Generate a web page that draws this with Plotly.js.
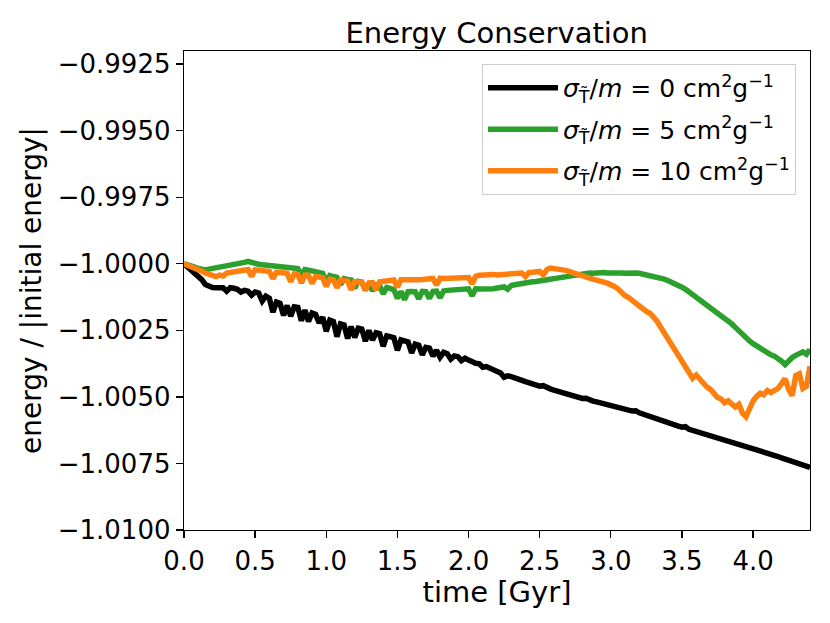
<!DOCTYPE html>
<html>
<head>
<meta charset="utf-8">
<script src="https://cdn.plot.ly/plotly-3.0.1.min.js"></script>
<style>html,body{margin:0;padding:0;background:#fff;}#chart{width:830px;height:623px;}</style>
</head>
<body>
<div id="chart"></div>
<script>
// time [Gyr]
const time = [
0,0.025,0.05,0.075,0.1,0.125,0.15,0.175,
0.2,0.225,0.25,0.275,0.3,0.325,0.35,0.375,
0.4,0.425,0.45,0.475,0.5,0.525,0.55,0.575,
0.6,0.625,0.65,0.675,0.7,0.725,0.75,0.775,
0.8,0.825,0.85,0.875,0.9,0.925,0.95,0.975,
1.0,1.025,1.05,1.075,1.1,1.125,1.15,1.175,
1.2,1.225,1.25,1.275,1.3,1.325,1.35,1.375,
1.4,1.425,1.45,1.475,1.5,1.525,1.55,1.575,
1.6,1.625,1.65,1.675,1.7,1.725,1.75,1.775,
1.8,1.825,1.85,1.875,1.9,1.925,1.95,1.975,
2.0,2.025,2.05,2.075,2.1,2.125,2.15,2.175,
2.2,2.225,2.25,2.275,2.3,2.325,2.35,2.375,
2.4,2.425,2.45,2.475,2.5,2.525,2.55,2.575,
2.6,2.625,2.65,2.675,2.7,2.725,2.75,2.775,
2.8,2.825,2.85,2.875,2.9,2.925,2.95,2.975,
3.0,3.025,3.05,3.075,3.1,3.125,3.15,3.175,
3.2,3.225,3.25,3.275,3.3,3.325,3.35,3.375,
3.4,3.425,3.45,3.475,3.5,3.525,3.55,3.575,
3.6,3.625,3.65,3.675,3.7,3.725,3.75,3.775,
3.8,3.825,3.85,3.875,3.9,3.925,3.95,3.975,
4.0,4.025,4.05,4.075,4.1,4.125,4.15,4.175,
4.2,4.225,4.25,4.275,4.3,4.325,4.35,4.375,
4.4];

// energy / |initial energy|, sigma/m = 0
const energy0 = [
-1.00000,-1.00012,-1.00023,-1.00035,-1.00046,-1.00060,-1.00078,-1.00086,
-1.00089,-1.00090,-1.00092,-1.00090,-1.00103,-1.00090,-1.00092,-1.00096,
-1.00106,-1.00100,-1.00103,-1.00118,-1.00106,-1.00110,-1.00140,-1.00122,
-1.00130,-1.00182,-1.00144,-1.00149,-1.00194,-1.00157,-1.00197,-1.00162,
-1.00164,-1.00214,-1.00174,-1.00217,-1.00185,-1.00190,-1.00222,-1.00201,
-1.00254,-1.00212,-1.00217,-1.00274,-1.00226,-1.00230,-1.00281,-1.00236,
-1.00277,-1.00242,-1.00245,-1.00291,-1.00250,-1.00287,-1.00259,-1.00263,
-1.00310,-1.00271,-1.00274,-1.00278,-1.00325,-1.00286,-1.00290,-1.00294,
-1.00335,-1.00302,-1.00306,-1.00342,-1.00314,-1.00317,-1.00347,-1.00325,
-1.00351,-1.00333,-1.00338,-1.00358,-1.00346,-1.00349,-1.00364,-1.00355,
-1.00362,-1.00370,-1.00374,-1.00376,-1.00389,-1.00386,-1.00393,-1.00399,
-1.00405,-1.00410,-1.00426,-1.00421,-1.00424,-1.00427,-1.00432,-1.00438,
-1.00443,-1.00447,-1.00451,-1.00456,-1.00460,-1.00458,-1.00467,-1.00470,
-1.00475,-1.00479,-1.00483,-1.00487,-1.00492,-1.00496,-1.00500,-1.00502,
-1.00506,-1.00505,-1.00512,-1.00516,-1.00519,-1.00523,-1.00526,-1.00530,
-1.00533,-1.00536,-1.00540,-1.00543,-1.00546,-1.00550,-1.00553,-1.00552,
-1.00560,-1.00565,-1.00569,-1.00574,-1.00578,-1.00583,-1.00587,-1.00594,
-1.00597,-1.00601,-1.00606,-1.00610,-1.00614,-1.00612,-1.00622,-1.00626,
-1.00630,-1.00634,-1.00638,-1.00643,-1.00647,-1.00651,-1.00652,-1.00659,
-1.00663,-1.00666,-1.00670,-1.00674,-1.00678,-1.00682,-1.00683,-1.00690,
-1.00694,-1.00698,-1.00702,-1.00706,-1.00710,-1.00716,-1.00719,-1.00724,
-1.00729,-1.00734,-1.00738,-1.00743,-1.00748,-1.00752,-1.00757,-1.00761,
-1.00765];

// sigma/m = 5
const energy5 = [
-1.00000,-1.00003,-1.00008,-1.00013,-1.00018,-1.00022,-1.00023,-1.00020,
-1.00018,-1.00015,-1.00012,-1.00010,-1.00008,-1.00006,-1.00003,-1.00001,
-0.99998,-0.99995,-0.99991,-0.99996,-1.00000,-1.00002,-1.00004,-1.00005,
-1.00006,-1.00007,-1.00008,-1.00009,-1.00010,-1.00012,-1.00014,-1.00016,
-1.00018,-1.00045,-1.00022,-1.00024,-1.00026,-1.00029,-1.00032,-1.00036,
-1.00068,-1.00044,-1.00048,-1.00051,-1.00078,-1.00056,-1.00059,-1.00061,
-1.00092,-1.00066,-1.00069,-1.00099,-1.00073,-1.00102,-1.00079,-1.00082,
-1.00113,-1.00089,-1.00093,-1.00097,-1.00130,-1.00104,-1.00135,-1.00105,
-1.00104,-1.00105,-1.00132,-1.00104,-1.00105,-1.00130,-1.00104,-1.00103,
-1.00128,-1.00102,-1.00100,-1.00099,-1.00098,-1.00097,-1.00096,-1.00095,
-1.00094,-1.00120,-1.00094,-1.00095,-1.00096,-1.00097,-1.00096,-1.00094,
-1.00091,-1.00089,-1.00087,-1.00096,-1.00082,-1.00079,-1.00076,-1.00073,
-1.00071,-1.00069,-1.00068,-1.00067,-1.00066,-1.00063,-1.00060,-1.00058,
-1.00056,-1.00054,-1.00051,-1.00048,-1.00045,-1.00042,-1.00040,-1.00038,
-1.00037,-1.00036,-1.00035,-1.00036,-1.00034,-1.00035,-1.00033,-1.00035,
-1.00034,-1.00036,-1.00034,-1.00035,-1.00036,-1.00034,-1.00033,-1.00035,
-1.00036,-1.00039,-1.00041,-1.00042,-1.00045,-1.00049,-1.00053,-1.00058,
-1.00063,-1.00068,-1.00074,-1.00081,-1.00088,-1.00096,-1.00106,-1.00116,
-1.00125,-1.00135,-1.00145,-1.00156,-1.00165,-1.00174,-1.00183,-1.00192,
-1.00202,-1.00214,-1.00226,-1.00239,-1.00253,-1.00266,-1.00278,-1.00290,
-1.00300,-1.00309,-1.00317,-1.00324,-1.00334,-1.00342,-1.00347,-1.00354,
-1.00366,-1.00379,-1.00363,-1.00352,-1.00344,-1.00340,-1.00331,-1.00340,
-1.00322];

// sigma/m = 10
const energy10 = [
-1.00000,-1.00005,-1.00009,-1.00014,-1.00020,-1.00028,-1.00035,-1.00040,
-1.00044,-1.00048,-1.00043,-1.00046,-1.00035,-1.00032,-1.00029,-1.00027,
-1.00025,-1.00023,-1.00022,-1.00048,-1.00023,-1.00024,-1.00026,-1.00028,
-1.00029,-1.00056,-1.00032,-1.00033,-1.00035,-1.00036,-1.00067,-1.00038,
-1.00040,-1.00072,-1.00043,-1.00044,-1.00074,-1.00048,-1.00050,-1.00053,
-1.00085,-1.00058,-1.00060,-1.00090,-1.00062,-1.00064,-1.00065,-1.00098,
-1.00067,-1.00069,-1.00070,-1.00100,-1.00072,-1.00071,-1.00098,-1.00068,
-1.00066,-1.00064,-1.00063,-1.00061,-1.00088,-1.00060,-1.00060,-1.00061,
-1.00060,-1.00059,-1.00060,-1.00059,-1.00058,-1.00057,-1.00055,-1.00080,
-1.00054,-1.00055,-1.00054,-1.00054,-1.00053,-1.00054,-1.00053,-1.00052,
-1.00052,-1.00075,-1.00047,-1.00043,-1.00041,-1.00042,-1.00041,-1.00040,
-1.00042,-1.00041,-1.00040,-1.00041,-1.00039,-1.00038,-1.00036,-1.00035,
-1.00048,-1.00033,-1.00032,-1.00030,-1.00029,-1.00042,-1.00022,-1.00016,
-1.00018,-1.00016,-1.00021,-1.00024,-1.00028,-1.00033,-1.00039,-1.00044,
-1.00046,-1.00050,-1.00054,-1.00058,-1.00060,-1.00064,-1.00069,-1.00073,
-1.00078,-1.00085,-1.00094,-1.00108,-1.00120,-1.00127,-1.00138,-1.00150,
-1.00160,-1.00170,-1.00179,-1.00186,-1.00198,-1.00216,-1.00238,-1.00260,
-1.00283,-1.00305,-1.00328,-1.00348,-1.00366,-1.00385,-1.00415,-1.00430,
-1.00418,-1.00434,-1.00448,-1.00463,-1.00472,-1.00488,-1.00502,-1.00508,
-1.00522,-1.00515,-1.00530,-1.00538,-1.00528,-1.00560,-1.00574,-1.00538,
-1.00515,-1.00498,-1.00486,-1.00492,-1.00476,-1.00484,-1.00475,-1.00468,
-1.00450,-1.00432,-1.00472,-1.00495,-1.00420,-1.00413,-1.00468,-1.00460,
-1.00385];

const seriesNames = [
  '<i>σ</i><sub>T̃</sub>/<i>m</i> = 0 cm<sup>2</sup>g<sup>−1</sup>',
  '<i>σ</i><sub>T̃</sub>/<i>m</i> = 5 cm<sup>2</sup>g<sup>−1</sup>',
  '<i>σ</i><sub>T̃</sub>/<i>m</i> = 10 cm<sup>2</sup>g<sup>−1</sup>'
];
const seriesColors = ['#000000', '#2ca02c', '#ff7f0e'];
const seriesValues = [energy0, energy5, energy10];

const yTicks = [-1.01, -1.0075, -1.005, -1.0025, -1.0, -0.9975, -0.995, -0.9925];
const xTicks = [0, 0.5, 1.0, 1.5, 2.0, 2.5, 3.0, 3.5, 4.0];

const FONT = 'DejaVu Sans, sans-serif';

const traces = seriesValues.map((vals, i) => ({
  type: 'scatter', mode: 'lines',
  x: time, y: vals, name: seriesNames[i], legendgroup: 'g' + i,
  line: {color: seriesColors[i], width: 5.5}
}));

const layout = {
  width: 830, height: 623,
  margin: {l: 184, r: 20, t: 51, b: 93, pad: 0},
  paper_bgcolor: '#ffffff', plot_bgcolor: '#ffffff',
  font: {family: FONT, color: '#000000', size: 26},
  title: {text: 'Energy Conservation', font: {family: FONT, size: 29, color: '#000'},
          x: 0.5985, xanchor: 'center', y: 0.948, yanchor: 'middle', yref: 'container'},
  showlegend: true,
  legend: {x: 0.476, y: 0.973, xanchor: 'left', yanchor: 'top',
           bgcolor: '#ffffff', bordercolor: '#cccccc', borderwidth: 1,
           itemwidth: 70,
           font: {family: FONT, size: 25, color: '#000'}, tracegroupgap: 6},
  xaxis: {
    range: [0, 4.4], tickvals: xTicks, ticktext: xTicks.map(v => v.toFixed(1)),
    ticks: 'outside', ticklen: 7, tickwidth: 1.3, tickcolor: '#000',
    showline: true, linecolor: '#000', linewidth: 1.3, mirror: true,
    showgrid: false, zeroline: false,
    tickfont: {family: FONT, size: 26, color: '#000'},
    title: {text: 'time [Gyr]', font: {family: FONT, size: 29, color: '#000'}, standoff: 6}
  },
  yaxis: {
    range: [-1.01, -0.99201], tickvals: yTicks,
    ticktext: yTicks.map(v => (v < 0 ? '\u2212' : '') + Math.abs(v).toFixed(4)),
    ticks: 'outside', ticklen: 7, tickwidth: 1.3, tickcolor: '#000',
    showline: true, linecolor: '#000', linewidth: 1.3, mirror: true,
    showgrid: false, zeroline: false,
    tickfont: {family: FONT, size: 26, color: '#000'},
    title: {text: 'energy / |initial energy|', font: {family: FONT, size: 28, color: '#000'}, standoff: 8}
  }
};

Plotly.newPlot('chart', traces, layout, {displayModeBar: false, staticPlot: true});
</script>
</body>
</html>
